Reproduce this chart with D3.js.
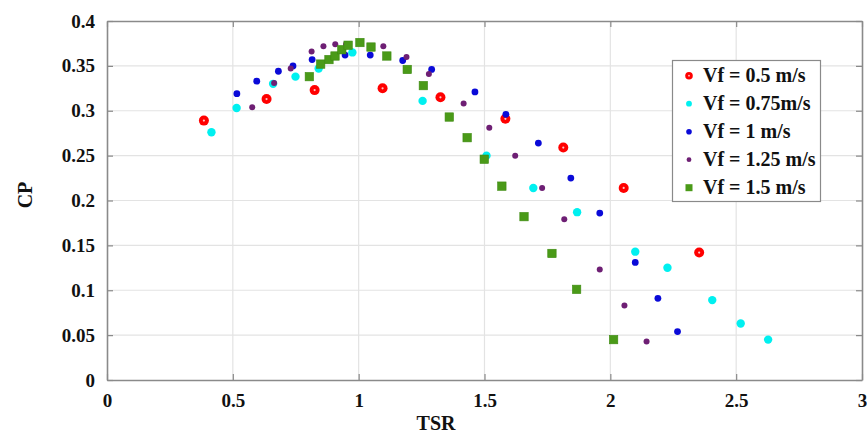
<!DOCTYPE html>
<html>
<head>
<meta charset="utf-8">
<script src="https://cdn.jsdelivr.net/npm/d3@7/dist/d3.min.js"></script>
<style>
  html, body { margin: 0; padding: 0; background: #fff; }
  svg text { font-family: "Liberation Serif", "Times New Roman", serif; font-weight: bold; fill: #111; }
</style>
</head>
<body>
<svg id="chart" width="867" height="436"></svg>
<script>
// Power coefficient (CP) against tip speed ratio (TSR) for five flow speeds
const seriesNames = ["Vf = 0.5 m/s", "Vf = 0.75m/s", "Vf = 1 m/s", "Vf = 1.25 m/s", "Vf = 1.5 m/s"];

const tsr05 = [0.385, 0.634, 0.825, 1.095, 1.325, 1.583, 1.813, 2.053, 2.353];
const cp05  = [0.289, 0.313, 0.323, 0.325, 0.315, 0.291, 0.259, 0.214, 0.142];

const tsr075 = [0.415, 0.515, 0.660, 0.749, 0.841, 0.975, 1.254, 1.508, 1.694, 1.868, 2.099, 2.227, 2.405, 2.518, 2.627];
const cp075  = [0.276, 0.303, 0.330, 0.338, 0.347, 0.365, 0.311, 0.250, 0.214, 0.187, 0.143, 0.125, 0.089, 0.063, 0.045];

const tsr1 = [0.516, 0.595, 0.681, 0.739, 0.815, 0.881, 0.946, 1.046, 1.175, 1.290, 1.462, 1.585, 1.714, 1.843, 1.958, 2.099, 2.189, 2.267];
const cp1  = [0.319, 0.333, 0.344, 0.350, 0.357, 0.357, 0.362, 0.362, 0.356, 0.346, 0.321, 0.296, 0.264, 0.225, 0.186, 0.131, 0.091, 0.054];

const tsr125 = [0.577, 0.664, 0.730, 0.813, 0.860, 0.907, 0.950, 1.098, 1.190, 1.279, 1.417, 1.519, 1.622, 1.729, 1.817, 1.958, 2.056, 2.144];
const cp125  = [0.304, 0.331, 0.347, 0.366, 0.372, 0.374, 0.374, 0.372, 0.360, 0.341, 0.308, 0.281, 0.250, 0.214, 0.179, 0.123, 0.083, 0.043];

const tsr15 = [0.804, 0.849, 0.882, 0.906, 0.933, 0.958, 1.005, 1.049, 1.112, 1.193, 1.257, 1.360, 1.431, 1.499, 1.569, 1.657, 1.768, 1.866, 2.013];
const cp15  = [0.338, 0.352, 0.357, 0.361, 0.368, 0.373, 0.376, 0.371, 0.361, 0.346, 0.328, 0.293, 0.270, 0.246, 0.216, 0.182, 0.141, 0.101, 0.045];

const xTicks = [0, 0.5, 1, 1.5, 2, 2.5, 3];
const yTicks = [0, 0.05, 0.1, 0.15, 0.2, 0.25, 0.3, 0.35, 0.4];

const series = [
  { name: seriesNames[0], x: tsr05,  y: cp05,  color: "#ff0000", shape: "ring" },
  { name: seriesNames[1], x: tsr075, y: cp075, color: "#00f0f0", shape: "circle", r: 4.2 },
  { name: seriesNames[2], x: tsr1,   y: cp1,   color: "#0a0ad8", shape: "circle", r: 3.4 },
  { name: seriesNames[3], x: tsr125, y: cp125, color: "#6e1f74", shape: "circle", r: 3.0 },
  { name: seriesNames[4], x: tsr15,  y: cp15,  color: "#4a9a18", shape: "square" }
];

const svg = d3.select("#chart");
const margin = { left: 107, right: 5, top: 21, bottom: 56 };
const W = 867, H = 436;

const x = d3.scaleLinear().domain([0, 3]).range([margin.left, W - margin.right]);
const y = d3.scaleLinear().domain([0, 0.4]).range([H - margin.bottom, margin.top]);

const x0 = x.range()[0], x1 = x.range()[1], y0 = y.range()[0], y1 = y.range()[1];

// grid
const grid = svg.append("g");
grid.selectAll("line.vx").data(xTicks.slice(1, -1)).join("line")
  .attr("x1", d => x(d)).attr("x2", d => x(d)).attr("y1", y0).attr("y2", y1)
  .attr("stroke", "#e3e3e3").attr("stroke-width", 1.2);
grid.selectAll("line.hy").data(yTicks.slice(1, -1)).join("line")
  .attr("x1", x0).attr("x2", x1).attr("y1", d => y(d)).attr("y2", d => y(d))
  .attr("stroke", "#e3e3e3").attr("stroke-width", 1.2);

// axes with inward ticks on all four sides
const axisColor = "#8a8a8a";
const fmt = d => String(d);
const styleAxis = g => {
  g.select(".domain").attr("stroke", axisColor).attr("stroke-width", 1.6);
  g.selectAll(".tick line").attr("stroke", axisColor).attr("stroke-width", 1.2);
  g.selectAll(".tick text").attr("font-size", 19).attr("fill", "#111")
    .attr("font-family", "Liberation Serif, Times New Roman, serif").attr("font-weight", "bold");
};
svg.append("g").attr("transform", `translate(0,${y0})`)
  .call(d3.axisBottom(x).tickValues(xTicks).tickFormat(fmt).tickSizeInner(-6).tickSizeOuter(0).tickPadding(14))
  .call(styleAxis);
svg.append("g").attr("transform", `translate(0,${y1})`)
  .call(d3.axisTop(x).tickValues(xTicks).tickFormat("").tickSizeInner(-6).tickSizeOuter(0))
  .call(styleAxis);
svg.append("g").attr("transform", `translate(${x0},0)`)
  .call(d3.axisLeft(y).tickValues(yTicks).tickFormat(fmt).tickSizeInner(-6).tickSizeOuter(0).tickPadding(12))
  .call(styleAxis);
svg.append("g").attr("transform", `translate(${x1},0)`)
  .call(d3.axisRight(y).tickValues(yTicks).tickFormat("").tickSizeInner(-6).tickSizeOuter(0))
  .call(styleAxis);

// axis titles
svg.append("text").attr("x", 436).attr("y", 430).attr("text-anchor", "middle")
  .attr("font-size", 20).text("TSR");
svg.append("text").attr("transform", `translate(32,${195}) rotate(-90)`).attr("text-anchor", "middle")
  .attr("font-size", 20).text("CP");

// markers
function drawMarker(g, s, cx, cy) {
  if (s.shape === "ring") {
    g.append("circle").attr("cx", cx).attr("cy", cy).attr("r", 5).attr("fill", s.color);
    g.append("circle").attr("cx", cx).attr("cy", cy).attr("r", 1.1).attr("fill", "#ffc4c4");
  } else if (s.shape === "square") {
    g.append("rect").attr("x", cx - 4.2).attr("y", cy - 4.2).attr("width", 8.4).attr("height", 8.4)
      .attr("fill", s.color).attr("stroke", "#3d8a10").attr("stroke-width", 0.6);
  } else {
    g.append("circle").attr("cx", cx).attr("cy", cy).attr("r", s.r).attr("fill", s.color);
  }
}

const plot = svg.append("g");
series.forEach(s => {
  const g = plot.append("g");
  s.x.forEach((xv, i) => drawMarker(g, s, x(xv), y(s.y[i])));
});

// legend
const lg = svg.append("g");
lg.append("rect").attr("x", 672.5).attr("y", 60.5).attr("width", 148).attr("height", 141)
  .attr("fill", "#fff").attr("stroke", "#8a8a8a").attr("stroke-width", 1.2);
series.forEach((s, i) => {
  const cy = 75.7 + i * 28;
  const sg = lg.append("g");
  if (s.shape === "ring") {
    sg.append("circle").attr("cx", 689).attr("cy", cy).attr("r", 3.8).attr("fill", s.color);
    sg.append("circle").attr("cx", 689).attr("cy", cy).attr("r", 0.9).attr("fill", "#ffc4c4");
  } else if (s.shape === "square") {
    sg.append("rect").attr("x", 685.5).attr("y", cy - 3.5).attr("width", 7).attr("height", 7).attr("fill", s.color);
  } else {
    sg.append("circle").attr("cx", 689).attr("cy", cy).attr("r", Math.min(s.r, 3.5) - 0.6).attr("fill", s.color);
  }
  lg.append("text").attr("x", 703).attr("y", cy + 6.5).attr("font-size", 20).text(s.name);
});
</script>
</body>
</html>
